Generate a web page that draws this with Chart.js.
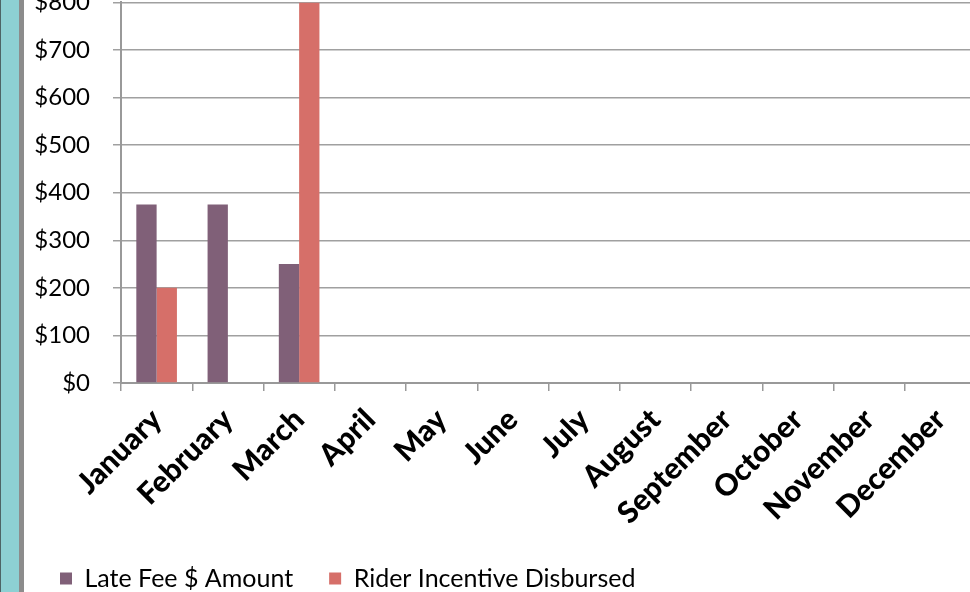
<!DOCTYPE html>
<html>
<head>
<meta charset="utf-8">
<script src="https://cdn.jsdelivr.net/npm/chart.js@4.4.0/dist/chart.umd.min.js"></script>
<style>
  html, body { margin: 0; padding: 0; background: #fff; overflow: hidden; width: 970px; height: 592px; }
  #strip { position: absolute; left: 0; top: 0; width: 19px; height: 592px; background: #8dd0d3; border-left: 1px solid #4d6466; box-sizing: border-box; z-index: 2; }
  #edge { position: absolute; left: 19px; top: 0; width: 5px; height: 592px; background: #8c8c8c; z-index: 2; }
  #wrap { position: absolute; left: 0; top: -35px; }
</style>
</head>
<body>
<div id="strip"></div>
<div id="edge"></div>
<div id="wrap"><canvas id="myChart" width="980" height="636"></canvas></div>
<script>
  const months = ['January', 'February', 'March', 'April', 'May', 'June', 'July',
    'August', 'September', 'October', 'November', 'December'];
  const lateFee = [375, 375, 250, 0, 0, 0, 0, 0, 0, 0, 0, 0];
  const riderIncentive = [200, 0, 800, 0, 0, 0, 0, 0, 0, 0, 0, 0];
  const yTicks = [0, 100, 200, 300, 400, 500, 600, 700, 800];

  const ctx = document.getElementById('myChart').getContext('2d');
  const myChart = new Chart(ctx, {
    type: 'bar',
    data: {
      labels: months,
      datasets: [
        {
          label: 'Late Fee $ Amount',
          data: lateFee,
          backgroundColor: '#806078',
          borderWidth: 0,
          barPercentage: 1,
          categoryPercentage: 0.57
        },
        {
          label: 'Rider Incentive Disbursed',
          data: riderIncentive,
          backgroundColor: '#d66f69',
          borderWidth: 0,
          barPercentage: 1,
          categoryPercentage: 0.57
        }
      ]
    },
    options: {
      responsive: false,
      animation: false,
      layout: { padding: { left: 24, right: 4, top: 4, bottom: 0 } },
      scales: {
        x: {
          grid: { display: true, drawOnChartArea: false, drawTicks: true, tickLength: 8, color: '#999', lineWidth: 1.5 },
          border: { display: true, color: '#999', width: 2 },
          ticks: {
            autoSkip: false,
            minRotation: 45,
            maxRotation: 45,
            padding: 11,
            color: '#000',
            font: { family: 'Lato', size: 30, weight: '900' }
          },
          afterFit: (scale) => { scale.height = 147; }
        },
        y: {
          min: 0,
          max: 800,
          afterBuildTicks: (scale) => { scale.ticks = yTicks.map(v => ({ value: v })); },
          grid: { color: '#a0a0a0', lineWidth: 1.5, tickLength: 8 },
          border: { display: true, color: '#999', width: 2 },
          ticks: {
            padding: 23,
            color: '#000',
            font: { family: 'Lato', size: 24 },
            callback: (v) => '$' + v
          },
          afterFit: (scale) => { scale.width = 97; }
        }
      },
      plugins: {
        legend: {
          position: 'bottom',
          align: 'start',
          labels: {
            boxWidth: 12,
            boxHeight: 12,
            padding: 36,
            color: '#000',
            font: { family: 'Lato', size: 25 }
          }
        },
        tooltip: { enabled: false }
      }
    }
  });
</script>
</body>
</html>
